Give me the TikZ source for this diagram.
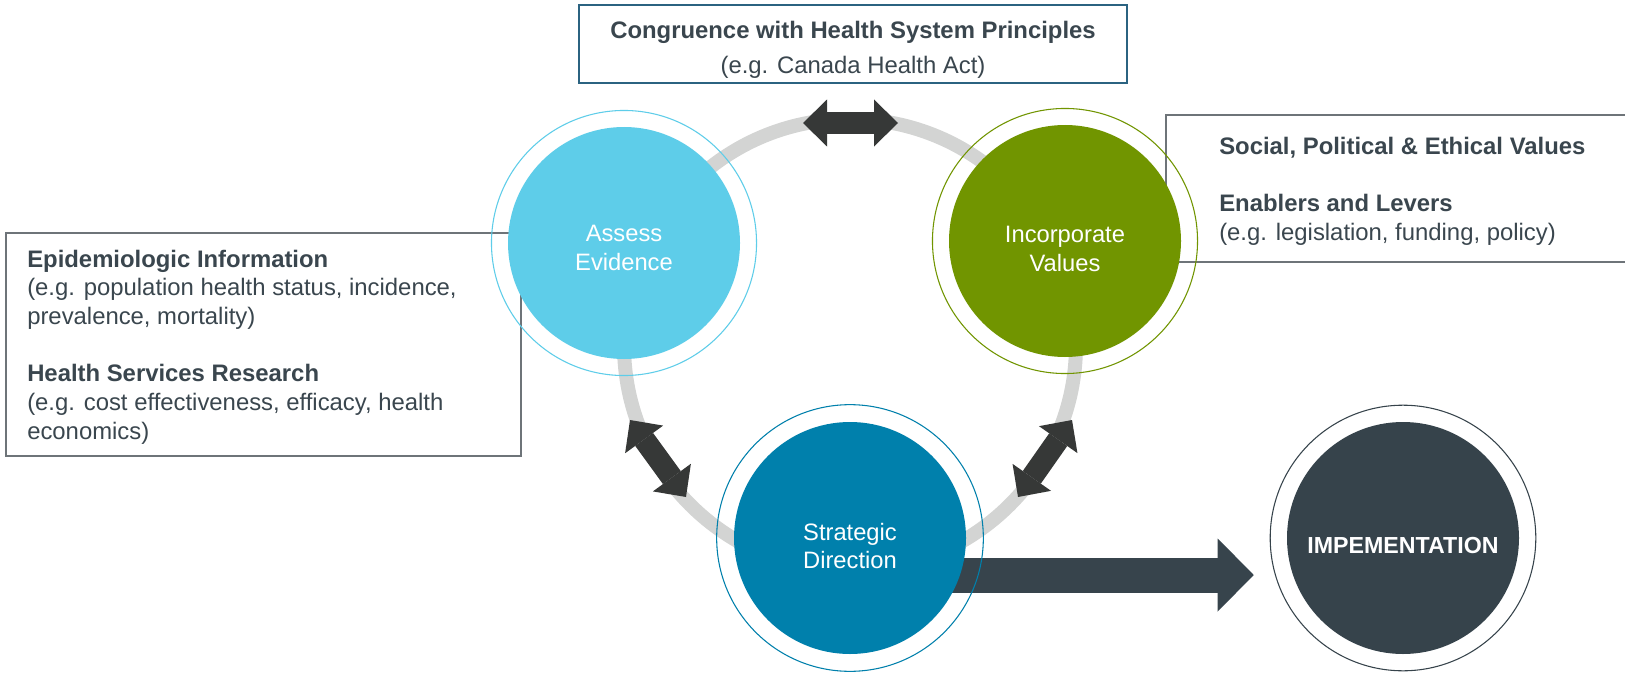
\documentclass[tikz,border=0pt]{standalone}
\usepackage{fontspec}
\setmainfont{Liberation Sans}
\usetikzlibrary{arrows.meta,calc}
\definecolor{cAssess}{HTML}{5ECDE9}
\definecolor{cValues}{HTML}{719500}
\definecolor{cStrat}{HTML}{0080AC}
\definecolor{cImpl}{HTML}{36434B}
\definecolor{cRing}{HTML}{D3D4D3}
\definecolor{cDbl}{HTML}{363837}
\definecolor{cBig}{HTML}{37444C}
\definecolor{cTxt}{HTML}{3A464E}
\definecolor{cTopBox}{HTML}{2B6381}
\definecolor{cBox}{HTML}{6E7479}
\pgfdeclarelayer{background}
\pgfsetlayers{background,main}
\tikzset{
  disc/.style={circle, inner sep=0pt, minimum size=174pt},
  halo/.style={line width=0.8pt},
  disctxt/.style={text=white, align=center, inner sep=0pt, font=\fontsize{17.8pt}{21.3pt}\selectfont},
  boxtxt/.style={text=cTxt, align=left, anchor=north west, inner sep=0pt, font=\fontsize{17.9pt}{21.5pt}\selectfont},
  toptxt/.style={text=cTxt, anchor=base, inner sep=0pt, font=\fontsize{17.9pt}{21.5pt}\selectfont},
  topframe/.style={draw=cTopBox, line width=1.1pt},
  sideframe/.style={draw=cBox, line width=1.1pt},
  ringpath/.style={draw=cRing, line width=10.5pt},
  twoway/.style={cDbl, line width=16.5pt, {Triangle[length=18pt,width=35.25pt,line width=0pt]}-{Triangle[length=18pt,width=35.25pt,line width=0pt]}},
  bigarrow/.style={cBig, line width=26.25pt, -{Triangle[length=27pt,width=54.75pt,line width=0pt]}}
}
\begin{document}
\begin{tikzpicture}[x=0.75pt,y=-0.75pt]
\useasboundingbox (0,0) rectangle (1625,674);

% discs
\node[disc, fill=cAssess] (assess) at (624,243) {};
\node[disc, fill=cValues] (incorp) at (1065,241) {};
\node[disc, fill=cStrat] (strat) at (850,538) {};
\node[disc, fill=cImpl] (impl) at (1403,538) {};

% halos
\draw[halo, cAssess] (assess.center) circle[radius=99.4pt];
\draw[halo, cValues] (incorp.center) circle[radius=99.4pt];
\draw[halo, cStrat] (strat.center) circle[radius=100pt];
\draw[halo, cImpl] (impl.center) circle[radius=99.6pt];

% disc texts
\node[disctxt] (assesstxt) at ($(assess.center)+(0,5)$) {Assess\\Evidence};
\node[disctxt] (incorptxt) at ($(incorp.center)+(0,8)$) {Incorporate\\Values};
\node[disctxt] (strattxt) at ($(strat.center)+(0,8)$) {Strategic\\Direction};
\node[disctxt, font=\fontsize{17.4pt}{21pt}\selectfont\bfseries] (impltxt) at ($(impl.center)+(0,8)$) {IMPEMENTATION};

% connector end points
\coordinate (topL) at (803,123);
\coordinate (topR) at (898,123);
\coordinate (lftA) at (630,420);
\coordinate (lftB) at (686,497);
\coordinate (rgtA) at (1072,420);
\coordinate (rgtB) at (1018,497);
\coordinate (ringc) at (850,345);

% texts in boxes
\node[toptxt] (toptitle) at (853,39) {\textbf{Congruence with Health System Principles}};
\node[toptxt] (topsub) at (853,73.5) {(e.g. Canada Health Act)};
\node[boxtxt] (lefttxt) at (27,249.6) {\textbf{Epidemiologic Information}\\(e.g. population health status, incidence,\\prevalence, mortality)\\[21.5pt]\textbf{Health Services Research}\\(e.g. cost effectiveness, efficacy, health\\economics)};
\node[boxtxt] (righttxt) at (1219,136.6) {\textbf{Social, Political \& Ethical Values}\\[21.5pt]\textbf{Enablers and Levers}\\(e.g. legislation, funding, policy)};

\begin{pgfonlayer}{background}
  \fill[white] (0,0) rectangle (1625,674);
  \draw[ringpath] (ringc) circle[radius=169.5pt];
  \draw[twoway] (topL) -- (topR);
  \draw[twoway] (lftA) -- (lftB);
  \draw[twoway] (rgtA) -- (rgtB);
  \draw[topframe] (579,5) rectangle (1127,83);
  \draw[sideframe] (6,233) rectangle (521,456);
  \draw[sideframe] (1627,115) -- (1166,115) -- (1166,262) -- (1627,262);
  \draw[bigarrow] ($(strat.center)+(0,37)$) -- ($(impl.west)+(-33,37)$);
\end{pgfonlayer}
\end{tikzpicture}
\end{document}
